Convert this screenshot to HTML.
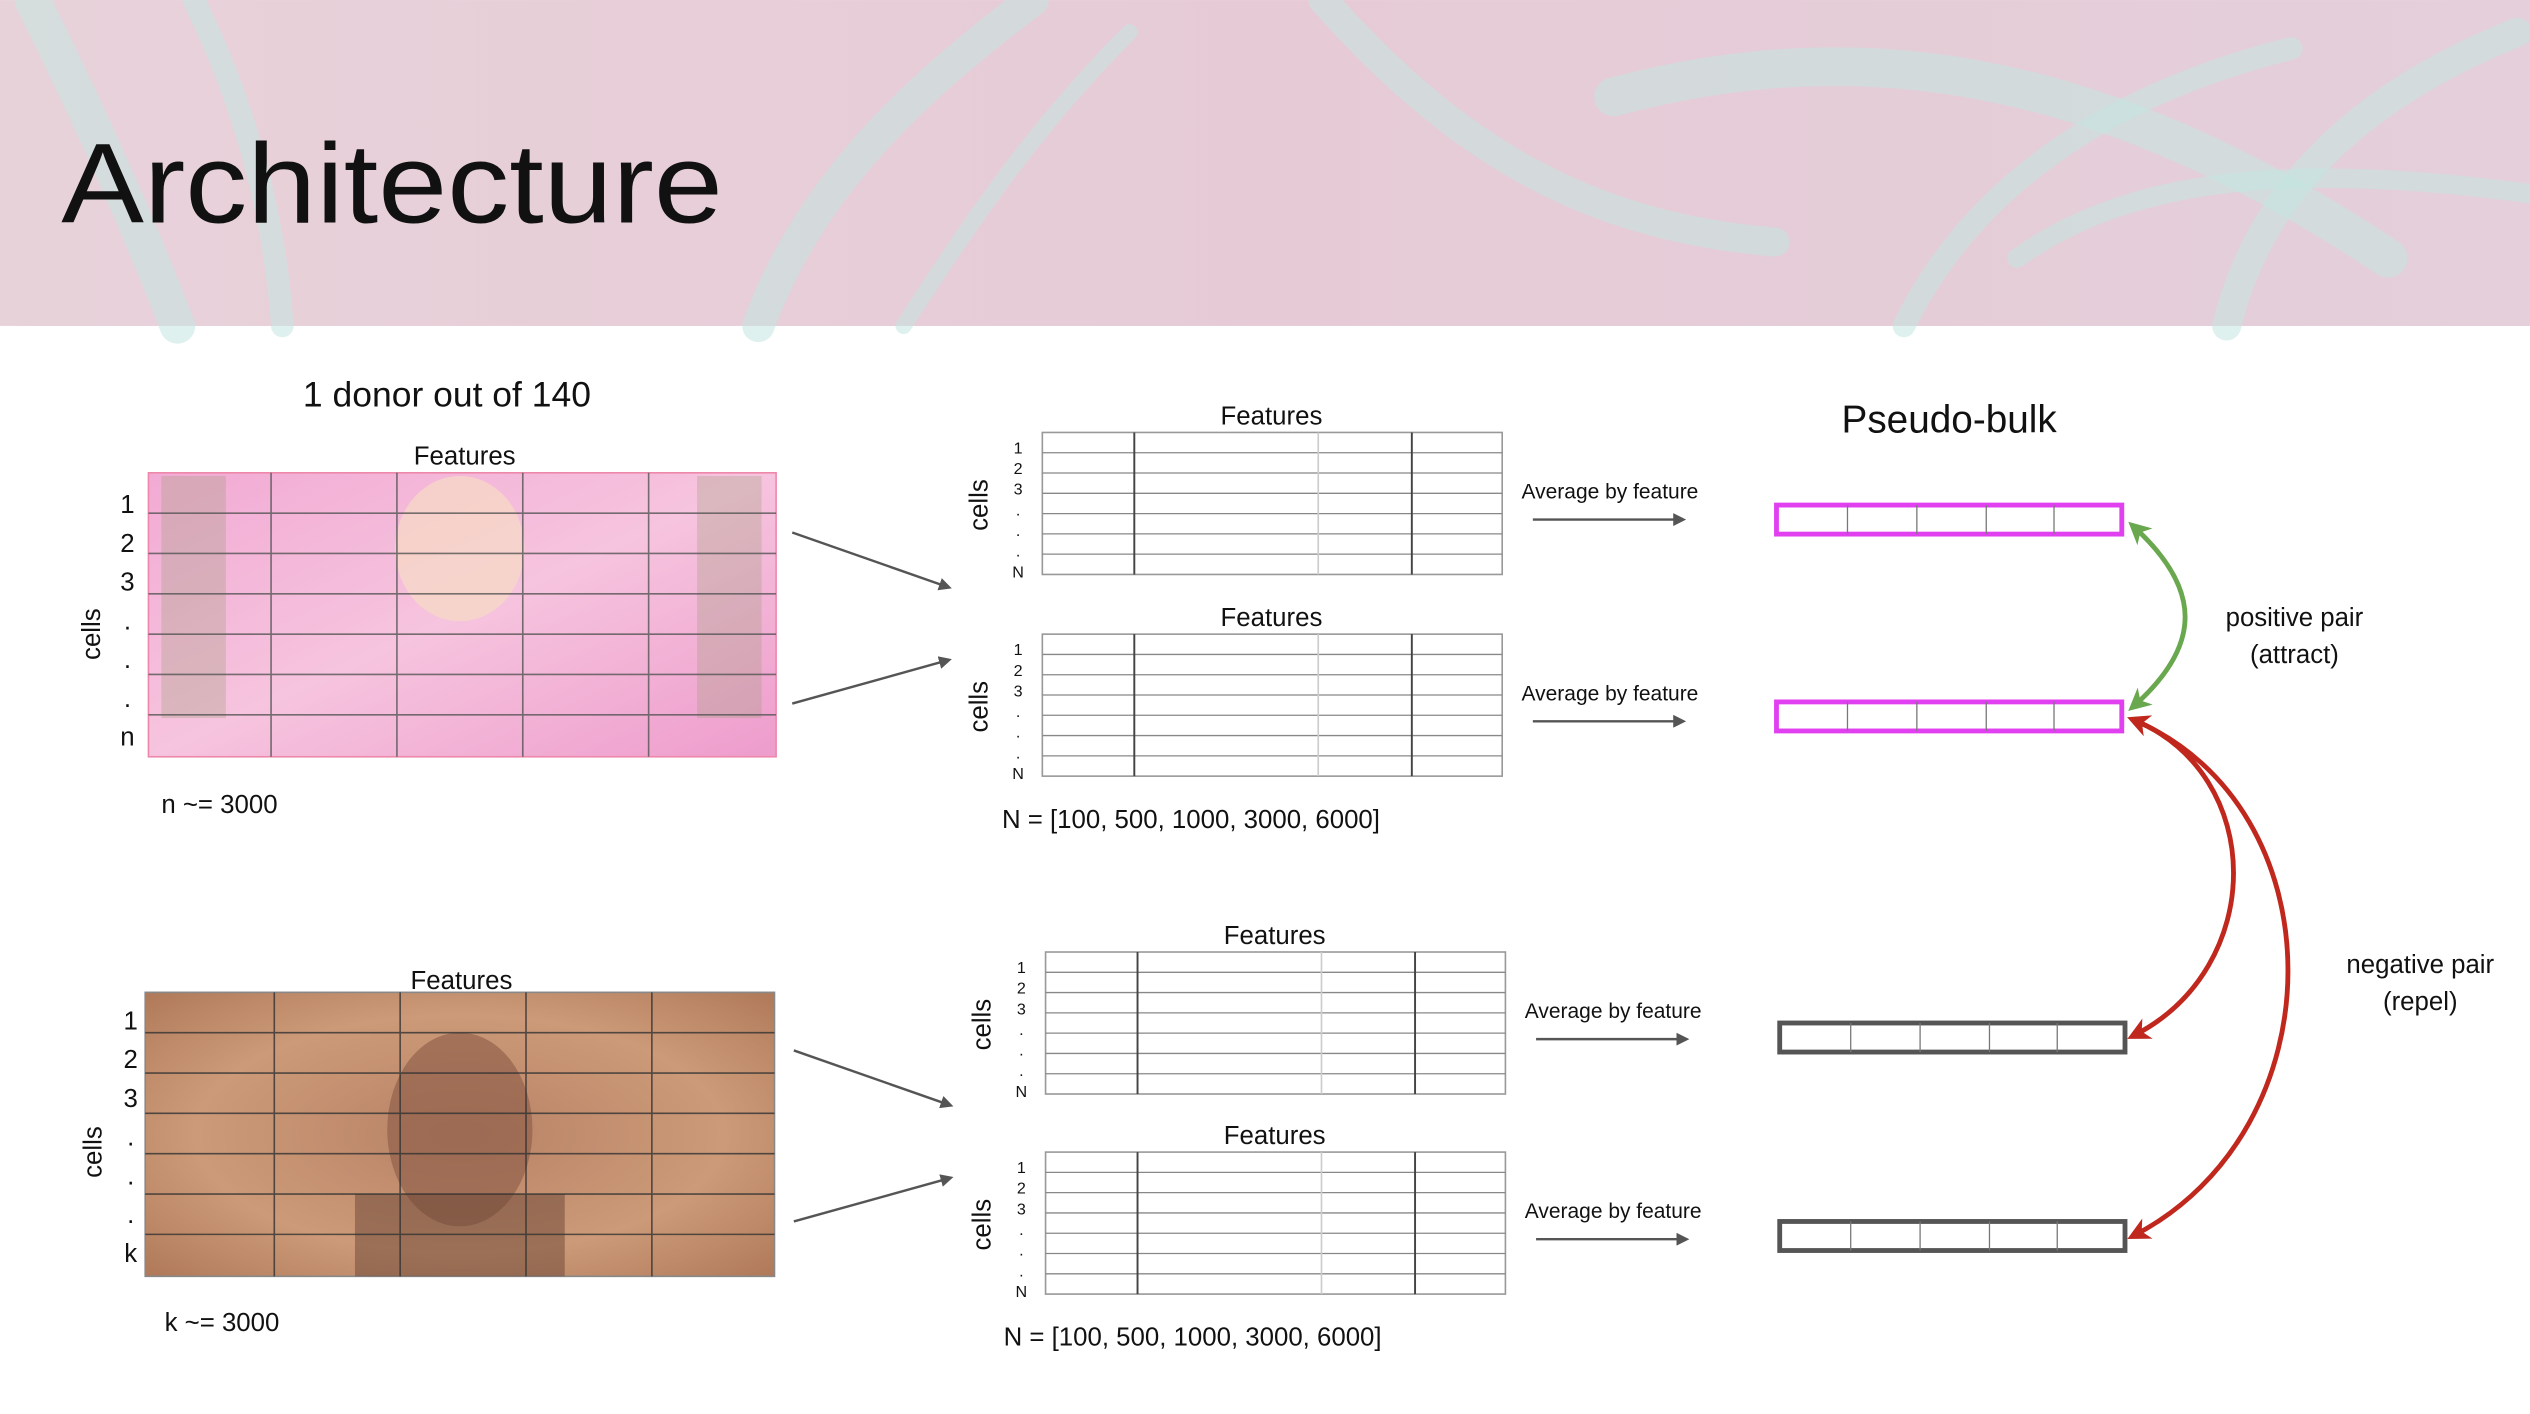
<!DOCTYPE html>
<html><head><meta charset="utf-8"><style>
html,body{margin:0;padding:0;background:#fff;}
svg{display:block;font-family:"Liberation Sans",sans-serif;}
</style></head><body>
<svg id="s" width="2530" height="1414" viewBox="0 0 1568 876.3">
<defs>
<linearGradient id="hdr" x1="0" y1="0" x2="1" y2="0">
<stop offset="0" stop-color="#e8d2da"/><stop offset="0.5" stop-color="#e6cbd6"/><stop offset="1" stop-color="#e4cfda"/></linearGradient>
<linearGradient id="pink" x1="0" y1="0" x2="1" y2="1">
<stop offset="0" stop-color="#f2aad4"/><stop offset="0.5" stop-color="#f6c4de"/><stop offset="1" stop-color="#ee9ccc"/></linearGradient>
<radialGradient id="brown" cx="0.5" cy="0.5" r="0.7">
<stop offset="0" stop-color="#b88266"/><stop offset="0.6" stop-color="#cc9a78"/><stop offset="1" stop-color="#b07a5a"/></radialGradient>
<marker id="ag" markerWidth="8" markerHeight="8" refX="6" refY="4" orient="auto" markerUnits="userSpaceOnUse"><path d="M0,0 L8,4 L0,8 z" fill="#555"/></marker>
<marker id="mg" markerWidth="14" markerHeight="14" refX="10" refY="7" orient="auto-start-reverse" markerUnits="userSpaceOnUse"><path d="M0,0 L14,7 L0,14 L4,7 z" fill="#6aa84f"/></marker>
<marker id="mr" markerWidth="14" markerHeight="14" refX="10" refY="7" orient="auto-start-reverse" markerUnits="userSpaceOnUse"><path d="M0,0 L14,7 L0,14 L4,7 z" fill="#c0281e"/></marker>
</defs>
<g>
<rect x="0" y="0" width="1568" height="202" fill="url(#hdr)"/>
<g fill="none" stroke="#c4e6e0" stroke-opacity="0.55" stroke-linecap="round">
<path d="M20,0 C60,80 90,150 110,202" stroke-width="22"/>
<path d="M120,0 C150,60 170,130 175,202" stroke-width="14"/>
<path d="M470,202 C500,120 560,60 640,0" stroke-width="20"/>
<path d="M560,202 C600,140 640,80 700,20" stroke-width="10"/>
<path d="M820,0 C900,90 980,140 1100,150" stroke-width="18"/>
<path d="M1000,60 C1150,20 1300,40 1480,160" stroke-width="24"/>
<path d="M1180,202 C1220,120 1300,60 1420,30" stroke-width="14"/>
<path d="M1380,202 C1400,120 1460,60 1560,20" stroke-width="18"/>
<path d="M1250,160 C1320,110 1420,100 1568,120" stroke-width="12"/>
</g>
<text x="38" y="138" font-size="70" textLength="410" lengthAdjust="spacingAndGlyphs" fill="#111">Architecture</text>
</g>

<g>
<text x="277" y="252" font-size="22" text-anchor="middle" fill="#111">1 donor out of 140</text>
<text x="288" y="288" font-size="16" text-anchor="middle" fill="#111">Features</text>
<rect x="92" y="293" width="389" height="176" fill="url(#pink)" stroke="#e8a"/>
<ellipse cx="285" cy="340" rx="40" ry="45" fill="#f6dcc4" opacity="0.7"/>
<rect x="100" y="295" width="40" height="150" fill="#9a9a78" opacity="0.3"/>
<rect x="432" y="295" width="40" height="150" fill="#9a9a78" opacity="0.3"/>
<g stroke="#555" stroke-width="1" opacity="0.8">
<line x1="168" y1="293" x2="168" y2="469"/><line x1="246" y1="293" x2="246" y2="469"/><line x1="324" y1="293" x2="324" y2="469"/><line x1="402" y1="293" x2="402" y2="469"/>
<line x1="92" y1="318" x2="481" y2="318"/><line x1="92" y1="343" x2="481" y2="343"/><line x1="92" y1="368" x2="481" y2="368"/><line x1="92" y1="393" x2="481" y2="393"/><line x1="92" y1="418" x2="481" y2="418"/><line x1="92" y1="443" x2="481" y2="443"/>
</g>
<g font-size="16" fill="#111" text-anchor="middle">
<text x="79" y="318">1</text><text x="79" y="342">2</text><text x="79" y="366">3</text><text x="79" y="390">.</text><text x="79" y="414">.</text><text x="79" y="438">.</text><text x="79" y="462">n</text></g>
<text transform="translate(62,393) rotate(-90)" font-size="16" text-anchor="middle" fill="#111">cells</text>
<text x="100" y="504" font-size="16" fill="#111">n ~= 3000</text>
</g>

<g>
<rect x="90" y="615" width="390" height="176" fill="url(#brown)" stroke="#888"/>
<ellipse cx="285" cy="700" rx="45" ry="60" fill="#8a5a46" opacity="0.6"/>
<rect x="220" y="740" width="130" height="51" fill="#6a4636" opacity="0.5"/>
<g stroke="#333" stroke-width="1" opacity="0.8">
<line x1="170" y1="615" x2="170" y2="791"/><line x1="248" y1="615" x2="248" y2="791"/><line x1="326" y1="615" x2="326" y2="791"/><line x1="404" y1="615" x2="404" y2="791"/>
<line x1="90" y1="640" x2="480" y2="640"/><line x1="90" y1="665" x2="480" y2="665"/><line x1="90" y1="690" x2="480" y2="690"/><line x1="90" y1="715" x2="480" y2="715"/><line x1="90" y1="740" x2="480" y2="740"/><line x1="90" y1="765" x2="480" y2="765"/>
</g>
<text x="286" y="613" font-size="16" text-anchor="middle" fill="#111">Features</text>
<g font-size="16" fill="#111" text-anchor="middle">
<text x="81" y="638">1</text><text x="81" y="662">2</text><text x="81" y="686">3</text><text x="81" y="710">.</text><text x="81" y="734">.</text><text x="81" y="758">.</text><text x="81" y="782">k</text></g>
<text transform="translate(63,714) rotate(-90)" font-size="16" text-anchor="middle" fill="#111">cells</text>
<text x="102" y="825" font-size="16" fill="#111">k ~= 3000</text>
</g>

<g stroke="#555" stroke-width="1.5">
<line x1="491" y1="330" x2="588" y2="364" marker-end="url(#ag)"/>
<line x1="491" y1="436" x2="588" y2="409" marker-end="url(#ag)"/>
<line x1="492" y1="651" x2="589" y2="685" marker-end="url(#ag)"/>
<line x1="492" y1="757" x2="589" y2="730" marker-end="url(#ag)"/>
</g>

<g id="tables"></g>

<text x="621" y="513" font-size="16" fill="#111">N = [100, 500, 1000, 3000, 6000]</text>
<text x="622" y="834" font-size="16" fill="#111">N = [100, 500, 1000, 3000, 6000]</text>

<text x="1208" y="268" font-size="24" text-anchor="middle" fill="#111">Pseudo-bulk</text>
<g id="bars"></g>

<g fill="none" stroke-width="3">
<path d="M1322,438 C1365,400 1365,365 1322,326" stroke="#6aa84f" marker-start="url(#mg)" marker-end="url(#mg)"/>
<path d="M1322,446 C1405,480 1405,600 1322,642" stroke="#c0281e" marker-start="url(#mr)" marker-end="url(#mr)"/>
<path d="M1322,446 C1450,500 1450,700 1322,766" stroke="#c0281e" marker-end="url(#mr)"/>
</g>
<g font-size="16" fill="#111" text-anchor="middle">
<text x="1422" y="388">positive pair</text>
<text x="1422" y="411">(attract)</text>
<text x="1500" y="603">negative pair</text>
<text x="1500" y="626">(repel)</text>
</g>
</svg>
<script>
const tableX = [646, 646, 648, 648];
const tableY = [268, 393, 590, 714];
const rowLabels = ["1","2","3",".",".",".","N"];
const barY = [313, 435, 634, 757];
const barX = [1101, 1101, 1103, 1103];
const barColors = ["#e040f0","#e040f0","#555","#555"];
const NS = "http://www.w3.org/2000/svg";
function mk(tag, attrs, parent){const e=document.createElementNS(NS,tag);for(const k in attrs)e.setAttribute(k,attrs[k]);parent.appendChild(e);return e;}
const tg=document.getElementById('tables');
tableX.forEach((x,i)=>{
  const y=tableY[i], w=285, h=88;
  const g=mk('g',{},tg);
  
  
  const ft=mk('text',{x:x+142,y:y-5,'font-size':16,'text-anchor':'middle',fill:'#111'},g);ft.textContent='Features';
  mk('rect',{x:x,y:y,width:w,height:h,fill:'#fff',stroke:'#999','stroke-width':1},g);
  for(let r=1;r<7;r++) mk('line',{x1:x,y1:y+r*h/7,x2:x+w,y2:y+r*h/7,stroke:'#888','stroke-width':0.8},g);
  mk('line',{x1:x+57,y1:y,x2:x+57,y2:y+h,stroke:'#444','stroke-width':1.2},g);
  mk('line',{x1:x+171,y1:y,x2:x+171,y2:y+h,stroke:'#ccc','stroke-width':1},g);
  mk('line',{x1:x+229,y1:y,x2:x+229,y2:y+h,stroke:'#444','stroke-width':1.2},g);
  rowLabels.forEach((l,r)=>{const t=mk('text',{x:x-15,y:y+13+r*12.8,'font-size':10,'text-anchor':'middle',fill:'#111'},g);t.textContent=l;});
  const c=mk('text',{transform:`translate(${x-34},${y+45}) rotate(-90)`,'font-size':16,'text-anchor':'middle',fill:'#111'},g);c.textContent='cells';
  const a=mk('text',{x:x+297,y:y+41,'font-size':13,fill:'#111'},g);a.textContent='Average by feature';
  mk('line',{x1:x+304,y1:y+54,x2:x+397,y2:y+54,stroke:'#555','stroke-width':1.5,'marker-end':'url(#ag)'},g);
});
const bg=document.getElementById('bars');
barY.forEach((y,i)=>{
  const x=barX[i];
  const g=mk('g',{},bg);
  
  
  mk('rect',{x:x,y:y,width:214,height:18,fill:'#fff',stroke:barColors[i],'stroke-width':3},g);
  [44,87,130,172].forEach(d=>mk('line',{x1:x+d,y1:y,x2:x+d,y2:y+18,stroke:'#777','stroke-width':0.8},g));
});
</script>
</body></html>
